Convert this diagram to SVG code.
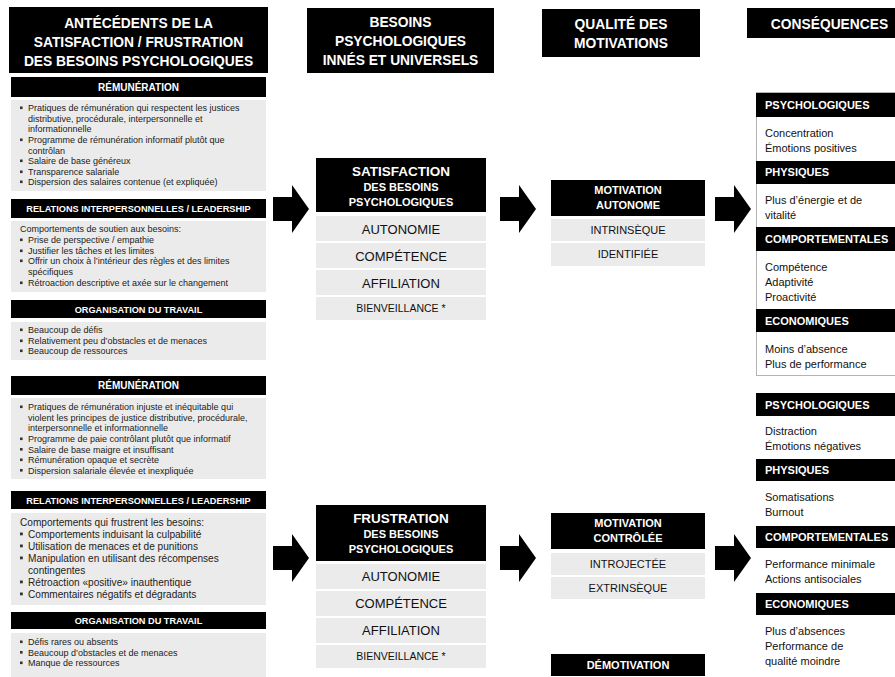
<svg xmlns="http://www.w3.org/2000/svg" xmlns:xlink="http://www.w3.org/1999/xlink" width="895" height="677" viewBox="0 0 895 677">
<style>
text{font-family:"Liberation Sans",Arial,sans-serif}
.blk{fill:#000}
.gry{fill:#ebebeb}
.ttl{fill:#fff;font-weight:bold;font-size:13.8px;text-anchor:middle}
.sh{fill:#fff;font-weight:bold;font-size:9.2px;text-anchor:middle}
.sh2{fill:#fff;font-weight:bold;font-size:10px;text-anchor:middle}
.bt{fill:#222;font-size:9px}
.bt2{fill:#222;font-size:10.1px}
.bul{fill:#333}
.nh1{fill:#fff;font-weight:bold;font-size:13.5px;text-anchor:middle}
.nh2{fill:#fff;font-weight:bold;font-size:11px;text-anchor:middle}
.need{fill:#111;font-size:13px;text-anchor:middle}
.need2{fill:#111;font-size:10.5px;text-anchor:middle}
.mh{fill:#fff;font-weight:bold;font-size:11px;text-anchor:middle}
.mr{fill:#111;font-size:11px;text-anchor:middle}
.ch{fill:#fff;font-weight:bold;font-size:11px}
.ct{fill:#111;font-size:11px}
</style>
<defs>
<path id="arr" d="M0,-12 H19 V-24 L36,0 L19,24 V12 H0 Z" fill="#000"/>
</defs>
<rect width="895" height="677" fill="#fff"/>

<g id="col-antecedents">
<g id="title-antecedents">
<rect class="blk" x="9" y="7" width="259" height="66"/>
<text class="ttl" x="138.5" y="28">ANTÉCÉDENTS DE LA</text>
<text class="ttl" x="138.5" y="47">SATISFACTION / FRUSTRATION</text>
<text class="ttl" x="138.5" y="66">DES BESOINS PSYCHOLOGIQUES</text>
</g>

<g id="sat-remuneration">
<rect class="blk" x="11" y="77" width="255" height="20"/>
<text class="sh2" x="138.5" y="90.5">RÉMUNÉRATION</text>
<rect class="gry" x="11" y="100" width="255" height="91"/>
<rect class="bul" x="20" y="106.5" width="2.6" height="2.6"/>
<rect class="bul" x="20" y="138.5" width="2.6" height="2.6"/>
<rect class="bul" x="20" y="159.5" width="2.6" height="2.6"/>
<rect class="bul" x="20" y="170.5" width="2.6" height="2.6"/>
<rect class="bul" x="20" y="180.5" width="2.6" height="2.6"/>
<text class="bt" x="28" y="111">Pratiques de rémunération qui respectent les justices</text>
<text class="bt" x="28" y="121.5">distributive, procédurale,  interpersonnelle et</text>
<text class="bt" x="28" y="132">informationnelle</text>
<text class="bt" x="28" y="143">Programme de rémunération informatif plutôt que</text>
<text class="bt" x="28" y="153.5">contrôlan</text>
<text class="bt" x="28" y="164">Salaire de base généreux</text>
<text class="bt" x="28" y="175">Transparence salariale</text>
<text class="bt" x="28" y="185">Dispersion des salaires contenue (et expliquée)</text>
</g>

<g id="sat-relations">
<rect class="blk" x="11" y="199" width="255" height="19"/>
<text class="sh" x="138.5" y="212">RELATIONS INTERPERSONNELLES / LEADERSHIP</text>
<rect class="gry" x="11" y="221" width="255" height="71"/>
<text class="bt" x="20" y="232">Comportements de soutien aux besoins:</text>
<rect class="bul" x="20" y="238.5" width="2.6" height="2.6"/>
<rect class="bul" x="20" y="249.5" width="2.6" height="2.6"/>
<rect class="bul" x="20" y="259.5" width="2.6" height="2.6"/>
<rect class="bul" x="20" y="281.5" width="2.6" height="2.6"/>
<text class="bt" x="28" y="243">Prise de perspective / empathie</text>
<text class="bt" x="28" y="254">Justifier les tâches et les limites</text>
<text class="bt" x="28" y="264">Offrir un choix à l’intérieur des règles et des limites</text>
<text class="bt" x="28" y="275">spécifiques</text>
<text class="bt" x="28" y="286">Rétroaction descriptive et axée sur le changement</text>
</g>

<g id="sat-organisation">
<rect class="blk" x="11" y="300" width="255" height="18"/>
<text class="sh" x="138.5" y="312.5">ORGANISATION DU TRAVAIL</text>
<rect class="gry" x="11" y="322" width="255" height="38"/>
<rect class="bul" x="20" y="328.5" width="2.6" height="2.6"/>
<rect class="bul" x="20" y="339.5" width="2.6" height="2.6"/>
<rect class="bul" x="20" y="349.5" width="2.6" height="2.6"/>
<text class="bt" x="28" y="333">Beaucoup de défis</text>
<text class="bt" x="28" y="344">Relativement peu d’obstacles et de menaces</text>
<text class="bt" x="28" y="354">Beaucoup de ressources</text>
</g>

<g id="frus-remuneration">
<rect class="blk" x="11" y="376" width="255" height="19"/>
<text class="sh2" x="138.5" y="389">RÉMUNÉRATION</text>
<rect class="gry" x="11" y="398" width="255" height="81"/>
<rect class="bul" x="20" y="405.5" width="2.6" height="2.6"/>
<rect class="bul" x="20" y="437.5" width="2.6" height="2.6"/>
<rect class="bul" x="20" y="448" width="2.6" height="2.6"/>
<rect class="bul" x="20" y="458.5" width="2.6" height="2.6"/>
<rect class="bul" x="20" y="469" width="2.6" height="2.6"/>
<text class="bt" x="28" y="410">Pratiques de rémunération injuste et inéquitable qui</text>
<text class="bt" x="28" y="420.5">violent les principes de justice distributive, procédurale,</text>
<text class="bt" x="28" y="431">interpersonnelle et informationnelle</text>
<text class="bt" x="28" y="442">Programme de paie contrôlant plutôt que informatif</text>
<text class="bt" x="28" y="452.5">Salaire de base maigre et insuffisant</text>
<text class="bt" x="28" y="463">Rémunération opaque et secrète</text>
<text class="bt" x="28" y="473.5">Dispersion salariale élevée et inexpliquée</text>
</g>

<g id="frus-relations">
<rect class="blk" x="11" y="491" width="255" height="18"/>
<text class="sh" x="138.5" y="503.5">RELATIONS INTERPERSONNELLES / LEADERSHIP</text>
<rect class="gry" x="11" y="513" width="255" height="92"/>
<text class="bt2" x="20" y="525.5">Comportements qui frustrent les besoins:</text>
<rect class="bul" x="20" y="532.5" width="2.8" height="2.8"/>
<rect class="bul" x="20" y="544.5" width="2.8" height="2.8"/>
<rect class="bul" x="20" y="556.5" width="2.8" height="2.8"/>
<rect class="bul" x="20" y="580.5" width="2.8" height="2.8"/>
<rect class="bul" x="20" y="592.5" width="2.8" height="2.8"/>
<text class="bt2" x="28" y="537.5">Comportements induisant la culpabilité</text>
<text class="bt2" x="28" y="549.5">Utilisation de menaces et de punitions</text>
<text class="bt2" x="28" y="561.5">Manipulation en utilisant des récompenses</text>
<text class="bt2" x="28" y="573.5">contingentes</text>
<text class="bt2" x="28" y="585.5">Rétroaction «positive» inauthentique</text>
<text class="bt2" x="28" y="597.5">Commentaires négatifs et dégradants</text>
</g>

<g id="frus-organisation">
<rect class="blk" x="11" y="612" width="255" height="17"/>
<text class="sh" x="138.5" y="624">ORGANISATION DU TRAVAIL</text>
<rect class="gry" x="11" y="633" width="255" height="44"/>
<rect class="bul" x="20" y="640.5" width="2.6" height="2.6"/>
<rect class="bul" x="20" y="651" width="2.6" height="2.6"/>
<rect class="bul" x="20" y="661.5" width="2.6" height="2.6"/>
<text class="bt" x="28" y="645">Défis rares ou absents</text>
<text class="bt" x="28" y="655.5">Beaucoup d’obstacles et de menaces</text>
<text class="bt" x="28" y="666">Manque de ressources</text>
</g>
</g>

<g id="title-besoins">
<rect class="blk" x="307" y="8" width="187" height="65"/>
<text class="ttl" x="400.5" y="27">BESOINS</text>
<text class="ttl" x="400.5" y="46">PSYCHOLOGIQUES</text>
<text class="ttl" x="400.5" y="65">INNÉS ET UNIVERSELS</text>
</g>

<g id="satisfaction">
<rect class="blk" x="316" y="158" width="170" height="54"/>
<text class="nh1" x="401" y="176">SATISFACTION</text>
<text class="nh2" x="401" y="191">DES BESOINS</text>
<text class="nh2" x="401" y="206">PSYCHOLOGIQUES</text>
<rect class="gry" x="316" y="216" width="170" height="25"/>
<rect class="gry" x="316" y="243" width="170" height="25"/>
<rect class="gry" x="316" y="270" width="170" height="25"/>
<rect class="gry" x="316" y="297" width="170" height="23"/>
<text class="need" x="401" y="233.5">AUTONOMIE</text>
<text class="need" x="401" y="260.5">COMPÉTENCE</text>
<text class="need" x="401" y="287.5">AFFILIATION</text>
<text class="need2" x="401" y="312">BIENVEILLANCE *</text>
</g>

<g id="frustration">
<rect class="blk" x="316" y="505" width="170" height="56"/>
<text class="nh1" x="401" y="523">FRUSTRATION</text>
<text class="nh2" x="401" y="538">DES BESOINS</text>
<text class="nh2" x="401" y="553">PSYCHOLOGIQUES</text>
<rect class="gry" x="316" y="564" width="170" height="25"/>
<rect class="gry" x="316" y="591" width="170" height="25"/>
<rect class="gry" x="316" y="618" width="170" height="25"/>
<rect class="gry" x="316" y="645" width="170" height="23"/>
<text class="need" x="401" y="581">AUTONOMIE</text>
<text class="need" x="401" y="608">COMPÉTENCE</text>
<text class="need" x="401" y="635">AFFILIATION</text>
<text class="need2" x="401" y="660">BIENVEILLANCE *</text>
</g>

<g id="title-qualite">
<rect class="blk" x="542" y="9" width="158" height="48"/>
<text class="ttl" x="621" y="29">QUALITÉ DES</text>
<text class="ttl" x="621" y="48">MOTIVATIONS</text>
</g>

<g id="motivation-autonome">
<rect class="blk" x="551" y="180" width="154" height="36"/>
<text class="mh" x="628" y="193.5">MOTIVATION</text>
<text class="mh" x="628" y="209">AUTONOME</text>
<rect class="gry" x="551" y="219" width="154" height="22"/>
<rect class="gry" x="551" y="243" width="154" height="23"/>
<text class="mr" x="628" y="234">INTRINSÈQUE</text>
<text class="mr" x="628" y="258">IDENTIFIÉE</text>
</g>

<g id="motivation-controlee">
<rect class="blk" x="551" y="513" width="154" height="36"/>
<text class="mh" x="628" y="527">MOTIVATION</text>
<text class="mh" x="628" y="542">CONTRÔLÉE</text>
<rect class="gry" x="551" y="553" width="154" height="22"/>
<rect class="gry" x="551" y="577" width="154" height="22"/>
<text class="mr" x="628" y="567.5">INTROJECTÉE</text>
<text class="mr" x="628" y="591.5">EXTRINSÈQUE</text>
</g>

<g id="demotivation">
<rect class="blk" x="551" y="654" width="154" height="22"/>
<text class="mh" x="628" y="669">DÉMOTIVATION</text>
</g>

<g id="title-consequences">
<rect class="blk" x="747" y="8" width="150" height="30"/>
<text class="ttl" x="829.5" y="29">CONSÉQUENCES</text>
</g>

<g id="consequences-positives">
<rect x="756.5" y="92.5" width="145" height="283" fill="#fff" stroke="#b4b4b4" stroke-width="1"/>
<rect class="blk" x="756" y="93" width="145" height="24"/>
<text class="ch" x="765" y="109">PSYCHOLOGIQUES</text>
<text class="ct" x="765" y="137">Concentration</text>
<text class="ct" x="765" y="152">Émotions positives</text>
<rect class="blk" x="756" y="161" width="145" height="23"/>
<text class="ch" x="765" y="176">PHYSIQUES</text>
<text class="ct" x="765" y="204">Plus d’énergie et de</text>
<text class="ct" x="765" y="219">vitalité</text>
<rect class="blk" x="756" y="227" width="145" height="24"/>
<text class="ch" x="765" y="243">COMPORTEMENTALES</text>
<text class="ct" x="765" y="271">Compétence</text>
<text class="ct" x="765" y="286">Adaptivité</text>
<text class="ct" x="765" y="301">Proactivité</text>
<rect class="blk" x="756" y="309" width="145" height="23"/>
<text class="ch" x="765" y="324.5">ECONOMIQUES</text>
<text class="ct" x="765" y="353">Moins d’absence</text>
<text class="ct" x="765" y="368">Plus de performance</text>
</g>

<g id="consequences-negatives">
<rect class="blk" x="756" y="393" width="145" height="23"/>
<text class="ch" x="765" y="408.5">PSYCHOLOGIQUES</text>
<text class="ct" x="765" y="435">Distraction</text>
<text class="ct" x="765" y="450">Émotions négatives</text>
<rect class="blk" x="756" y="459" width="145" height="22"/>
<text class="ch" x="765" y="474">PHYSIQUES</text>
<text class="ct" x="765" y="501">Somatisations</text>
<text class="ct" x="765" y="516">Burnout</text>
<rect class="blk" x="756" y="526" width="145" height="22"/>
<text class="ch" x="765" y="541">COMPORTEMENTALES</text>
<text class="ct" x="765" y="568">Performance minimale</text>
<text class="ct" x="765" y="583">Actions antisociales</text>
<rect class="blk" x="756" y="593" width="145" height="22"/>
<text class="ch" x="765" y="608">ECONOMIQUES</text>
<text class="ct" x="765" y="635">Plus d’absences</text>
<text class="ct" x="765" y="650">Performance de</text>
<text class="ct" x="765" y="665">qualité moindre</text>
</g>

<g id="connectors">
<use xlink:href="#arr" href="#arr" x="273" y="209"/>
<use xlink:href="#arr" href="#arr" x="500" y="209"/>
<use xlink:href="#arr" href="#arr" x="715" y="209"/>
<use xlink:href="#arr" href="#arr" x="273" y="558"/>
<use xlink:href="#arr" href="#arr" x="500" y="558"/>
<use xlink:href="#arr" href="#arr" x="715" y="558"/>
</g>
</svg>
